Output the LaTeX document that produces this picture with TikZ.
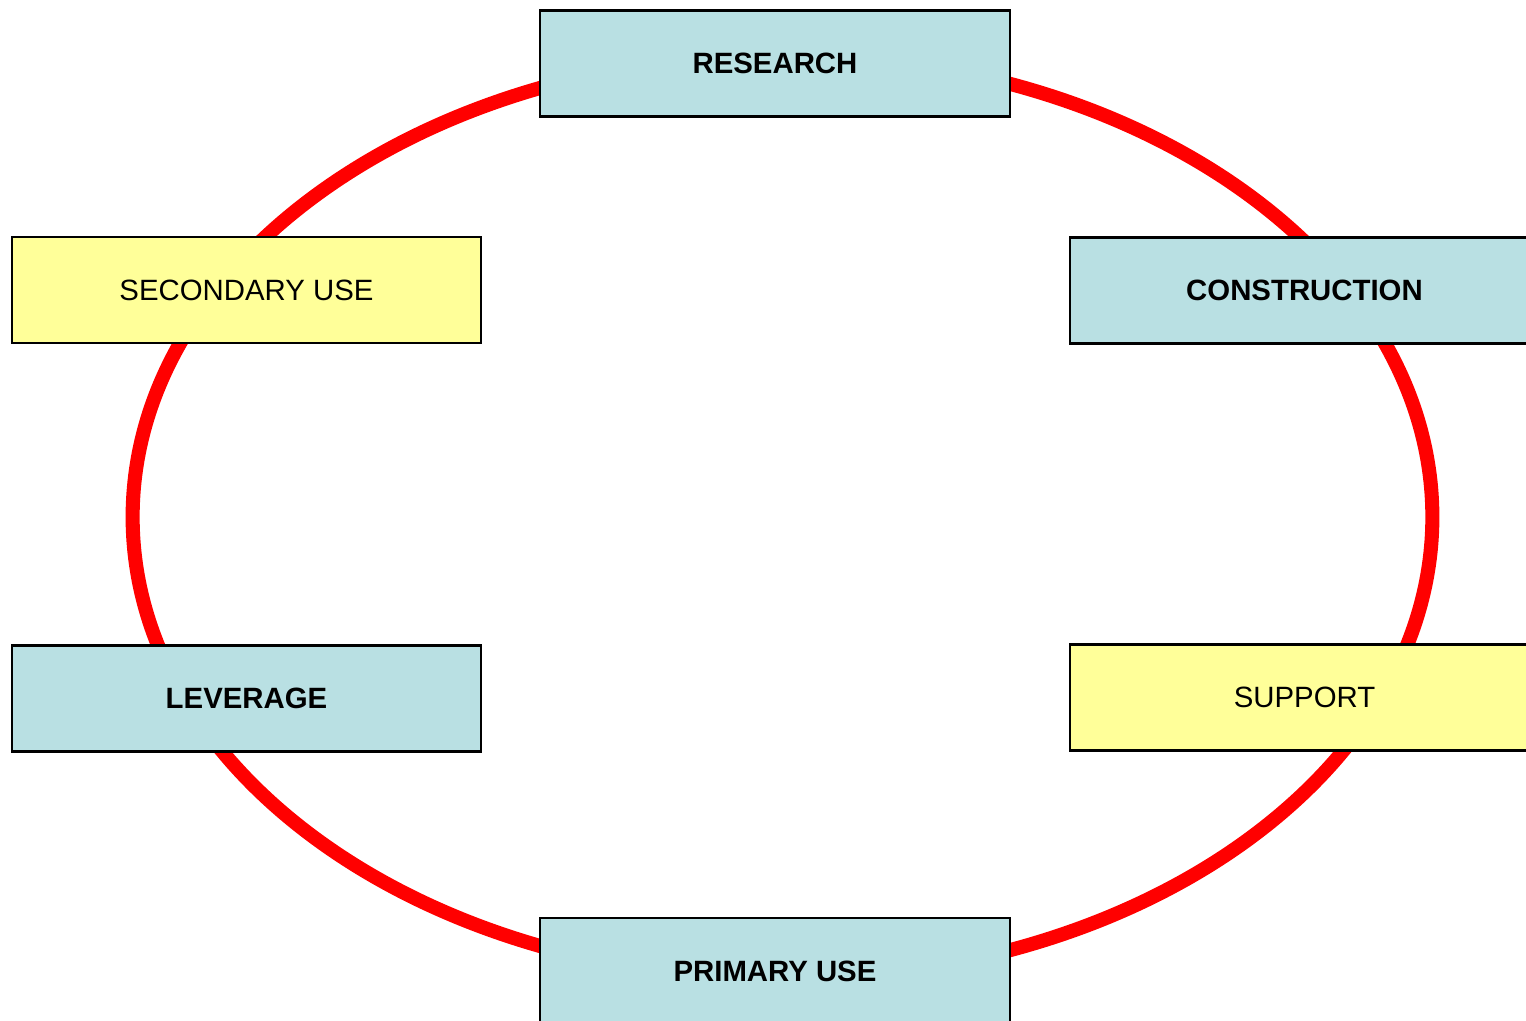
\documentclass[tikz,border=0pt]{standalone}
\usepackage{fontspec}
\setmainfont{Liberation Sans}
\usepackage{xcolor}
\definecolor{stagecyan}{HTML}{B9E0E3}
\definecolor{stageyellow}{HTML}{FFFF99}
\begin{document}
\begin{tikzpicture}[x=0.01cm, y=-0.01cm,
    stage/.style={draw=black, line width=0.6pt, minimum width=4.69cm, minimum height=1.06cm,
        inner sep=0pt, font=\fontsize{8.35pt}{10pt}\selectfont},
    mainstage/.style={stage, fill=stagecyan, font=\fontsize{8.35pt}{10pt}\selectfont\bfseries},
    sidestage/.style={stage, fill=stageyellow}]
    % Frame of the picture
    \useasboundingbox (0,0) rectangle (1526,1021);
    \clip (0,0) rectangle (1526,1021);

    % Draw the cycle
    \draw[red, line width=4pt] (782.5,517) ellipse [x radius=6.495cm, y radius=4.62cm];

    % Stages on the cycle
    \node[mainstage] (research) at (775,63.5) {RESEARCH};
    \node[mainstage] (construction) at (1304.5,290.5) {CONSTRUCTION};
    \node[sidestage] (support) at (1304.5,697.5) {SUPPORT};
    \node[mainstage] (primary) at (775,971) {PRIMARY USE};
    \node[mainstage] (leverage) at (246.5,698.5) {LEVERAGE};
    \node[sidestage] (secondary) at (246.5,290) {SECONDARY USE};
\end{tikzpicture}
\end{document}
